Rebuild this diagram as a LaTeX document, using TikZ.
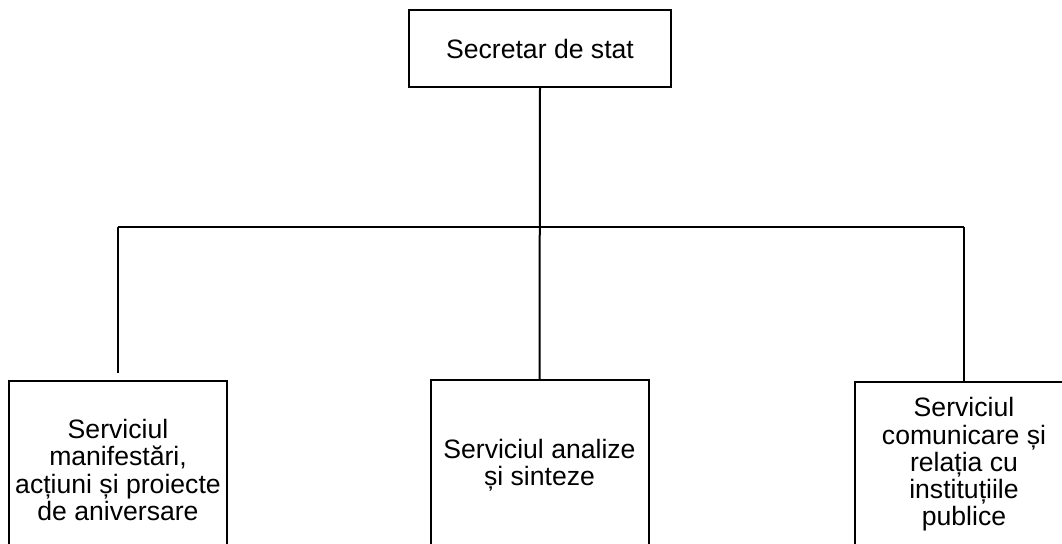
\documentclass[tikz,border=0pt]{standalone}
\usepackage{fontspec}
\setmainfont{Liberation Sans}
\begin{document}
\begin{tikzpicture}[x=0.5pt, y=-0.5pt, line width=1pt,
    unit/.style={rectangle, draw, align=center, inner sep=0pt, font=\fontsize{13.3}{13.6}\selectfont},
    sub/.style={unit, anchor=north, minimum width=109pt}]
    \clip (0,0) rectangle (1062,544);
    % Nodes
    \node[unit, minimum width=131pt, minimum height=38.5pt] at (540, 48.5) (sec) {Secretar de stat};
    \node[sub, minimum height=89pt] at (118, 380) (man) {Serviciul\\ manifestări,\\ acțiuni și proiecte\\ de aniversare};
    \node[sub, minimum height=85pt] at (539.5, 379) (ana) {Serviciul analize\\ și sinteze};
    \node[sub, minimum height=82.5pt] at (964, 381) (com) {Serviciul\\ comunicare și\\ relația cu\\ instituțiile\\ publice};
    \coordinate (bus) at (540, 227);

    \draw (sec.south) -- (ana.north);
    \draw (man.north |- bus) -- (com.north |- bus);
    \draw[shorten >=3.5pt] (man.north |- bus) -- (man.north);
    \draw (com.north |- bus) -- (com.north);
  \end{tikzpicture}
\end{document}
